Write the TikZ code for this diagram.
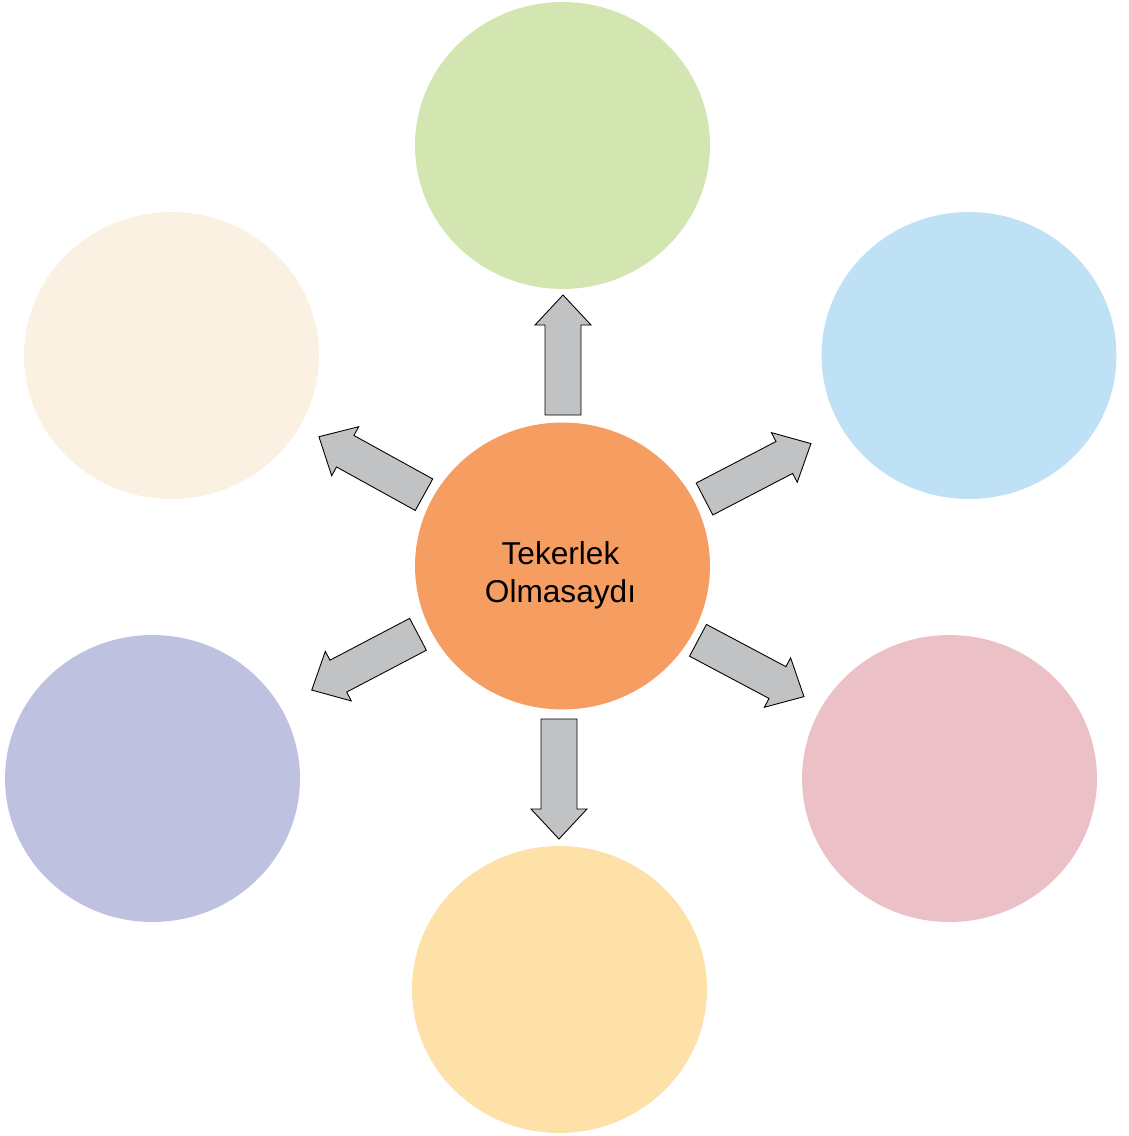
\documentclass[tikz,border=0pt]{standalone}
\usepackage{fontspec}
\setmainfont{Liberation Sans}
\usetikzlibrary{shapes.geometric}

\definecolor{hubfill}{HTML}{F69D62}
\definecolor{greenfill}{HTML}{D3E6B2}
\definecolor{bluefill}{HTML}{BEE1F5}
\definecolor{pinkfill}{HTML}{EBC0C6}
\definecolor{yellowfill}{HTML}{FDE1A9}
\definecolor{purplefill}{HTML}{BFC1E0}
\definecolor{beigefill}{HTML}{FAF1E3}
\definecolor{arrowgray}{HTML}{C1C2C4}

\begin{document}
\begin{tikzpicture}[
  x=0.02cm, y=-0.02cm,
  bubble/.style={ellipse, minimum width=5.9cm, minimum height=5.74cm, inner sep=0pt},
  hubtext/.style={align=center, font=\fontsize{18pt}{21.5pt}\selectfont},
  blockarrow/.style={fill=arrowgray, draw=black, line width=0.5pt, line join=miter},
]
\useasboundingbox (0,0) rectangle (1129,1136);

% ---------------- bubbles ----------------
\node[bubble, fill=hubfill] (hub) at (562.5,566) {};
\node[hubtext] (hublabel) at (560.5,575) {Tekerlek\\Olmasaydı};
\node[bubble, fill=greenfill] (north) at (562.5,145.5) {};
\node[bubble, fill=bluefill] (northeast) at (969,355.5) {};
\node[bubble, fill=pinkfill] (southeast) at (949.5,778.5) {};
\node[bubble, fill=yellowfill] (south) at (559.5,989.5) {};
\node[bubble, fill=purplefill] (southwest) at (152.5,778.5) {};
\node[bubble, fill=beigefill] (northwest) at (171.5,355.5) {};

% ---------------- block arrows ----------------
\foreach \ax/\ay/\ang in {563/415/90, 704.5/499/27.5, 698/640.3/-28,
                          559/719/-90, 418/634.3/207.7, 424/494.7/151.1}
  \draw[blockarrow, shift={(\ax,\ay)}, rotate=\ang]
    (0,-18) -- (90,-18) -- (90,-28) -- (120,0) -- (90,28) -- (90,18) -- (0,18) -- cycle;

\end{tikzpicture}
\end{document}
